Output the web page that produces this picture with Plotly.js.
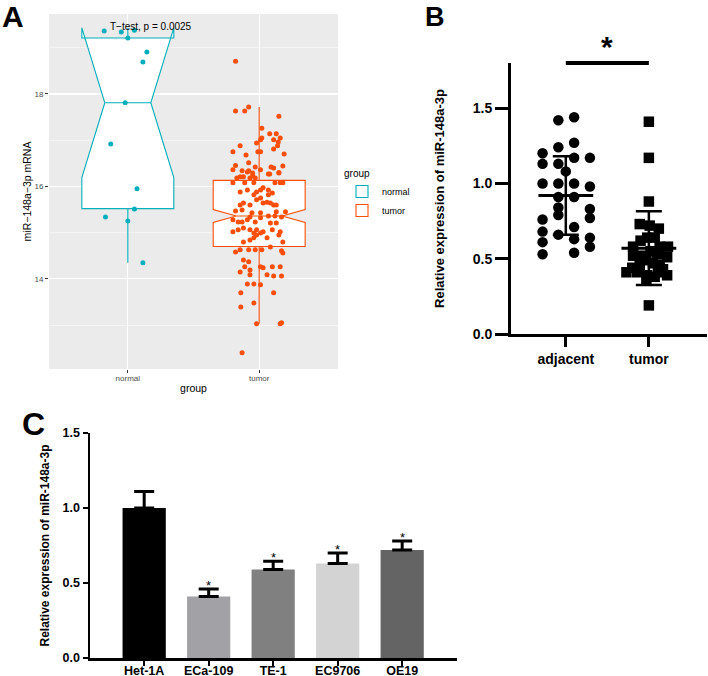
<!DOCTYPE html>
<html><head><meta charset="utf-8">
<script src="https://cdn.plot.ly/plotly-3.0.1.min.js"></script>
<style>html,body{margin:0;padding:0;background:#fff}#chart{width:708px;height:676px}</style>
</head><body><div id="chart"></div>
<script>
// ---------- Panel A data ----------
const groupsA = ['normal', 'tumor'];
const normalVals = [19.36,19.34,19.38,19.21,18.91,18.69,17.81,16.92,15.95,15.51,15.34,15.25,14.35];
const normalJit  = [-0.18,-0.05,0.05,0,0.145,0.115,-0.02,-0.13,0.07,0.05,-0.17,0,0.115];
const tumorVals = [
 18.71,17.63,17.63,17.72,17.52,17.26,17.14,17.14,17.05,17.05,17.01,16.94,17.01,16.96,16.88,16.88,16.75,16.68,16.75,16.75,
 16.81,16.70,16.51,16.45,16.42,16.42,16.40,16.44,16.34,16.34,16.27,16.30,16.23,
 16.36,16.21,16.31,16.29,16.36,16.27,16.29,16.18,16.21,16.18,16.18,
 16.08,16.08,16.08,16.08,16.08,16.08,
 15.88,15.92,15.88,15.92,15.97,15.92,15.86,15.82,15.82,
 15.64,15.71,15.75,15.66,15.60,15.60,15.60,15.60,15.64,15.64,
 15.47,15.49,15.43,15.43,15.45,15.45,15.34,15.36,15.36,15.34,15.28,15.32,15.28,15.23,
 15.02,15.06,15.10,15.06,14.99,14.95,14.99,15.02,15.06,14.89,15.06,15.02,14.95,15.23,15.23,15.21,15.21,
 14.80,14.84,14.89,14.80,14.58,14.63,14.63,14.63,14.63,14.69,14.61,14.56,
 14.41,14.37,14.26,14.15,14.19,14.26,14.24,14.26,14.09,14.06,14.26,14.06,14.09,
 13.89,13.89,13.87,13.70,13.70,13.39,13.48,13.03,13.03,13.05,12.40];
const tumorJit = [
 -0.18,-0.18,-0.11,-0.08,0.15,0.02,0.08,0.13,0.16,0.02,0.11,-0.02,0.01,0.145,-0.145,0.14,-0.20,-0.10,-0.01,0.01,
 0.11,0.19,-0.08,-0.18,-0.03,0.09,0.11,0.18,-0.13,-0.08,0.08,0.15,-0.05,
 -0.20,-0.145,-0.09,-0.05,0.01,0.07,0.15,-0.17,-0.12,-0.07,-0.03,
 -0.20,-0.11,-0.04,0.12,0.16,0.18,
 -0.145,-0.09,-0.02,0.01,0.03,0.07,0.10,-0.04,0.07,
 -0.12,-0.02,0.01,0.06,0.11,0.13,-0.145,-0.07,0.03,0.085,
 -0.18,-0.13,-0.055,0.01,0.13,0.20,0.17,0.12,0.07,-0.07,-0.20,0.01,-0.09,-0.16,
 -0.20,-0.16,-0.12,-0.07,-0.04,-0.02,0.01,0.03,-0.02,0.06,0.10,0.16,0.15,-0.13,-0.03,0.085,0.13,
 -0.12,-0.07,-0.04,0.18,-0.18,-0.145,-0.08,-0.03,0.02,0.085,0.17,0.18,
 -0.12,-0.08,-0.11,-0.145,-0.07,0.01,0.03,0.10,0.06,0.11,0.16,0.17,-0.07,
 -0.09,-0.04,0.01,0.11,-0.14,-0.14,-0.04,-0.02,0.16,0.17,-0.13];
// box statistics: [normal, tumor]
const boxQ1 = [15.52, 14.70];
const boxMedian = [17.81, 15.36];
const boxQ3 = [19.21, 16.13];
const boxLower = [14.35, 13.03];
const boxUpper = [19.38, 17.72];
const boxNotch = [1.62, 0.14];
const colorsA = ['#00AFBB', '#FC4E07'];

// ---------- Panel B data ----------
const groupsB = ['adjacent', 'tumor'];
const adjVals = [1.42,1.44,1.24,1.27,1.20,1.17,1.17,1.13,1.13,1.08,1.00,1.00,1.00,0.98,0.91,0.91,0.84,0.83,0.79,0.76,0.77,0.68,0.71,0.66,0.61,0.63,0.64,0.58,0.53,0.54];
const adjJit  = [-0.09,0.1,-0.09,0.1,-0.28,0.1,0.29,-0.28,-0.09,0,-0.28,-0.09,0.1,0.29,-0.09,0.1,-0.09,0.29,-0.09,-0.28,0.29,-0.28,0.1,-0.09,-0.28,0.1,0.29,0.29,-0.28,0.1];
const tumBVals = [1.41,1.17,0.88,0.73,0.72,0.70,0.64,0.64,0.62,0.58,0.58,0.58,0.55,0.53,0.52,0.52,0.51,0.49,0.47,0.46,0.46,0.44,0.43,0.41,0.41,0.39,0.41,0.39,0.36,0.38,0.19];
const tumBJit  = [0,0,0,-0.11,0.01,0.12,-0.02,0.07,-0.1,-0.19,0.13,0.23,0.02,0.1,-0.19,-0.08,0.22,-0.03,0.05,-0.11,0.13,-0.2,0.17,-0.27,-0.14,-0.02,0.11,0.22,-0.03,0.07,0];
const meanB = [0.92, 0.57];
const sdB = [0.26, 0.245];
const yTicksB = [0, 0.5, 1.0, 1.5];

// ---------- Panel C data ----------
const cells = ['Het-1A', 'ECa-109', 'TE-1', 'EC9706', 'OE19'];
const cMeans = [1.00, 0.41, 0.59, 0.63, 0.72];
const cErr = [0.11, 0.05, 0.055, 0.07, 0.06];
const cColors = ['#000000', '#a2a2a6', '#808080', '#d3d3d3', '#646464'];
const cSig = ['', '*', '*', '*', '*'];
const yTicksC = [0, 0.5, 1.0, 1.5];

const FONT = 'Liberation Sans, Arial, sans-serif';
const W = 708, H = 676;
const px = v => v / W, py = v => 1 - v / H;
const traces = [];

// Panel A boxes + points
groupsA.forEach((g, i) => {
  traces.push({
    type: 'box', name: g, x: [i], q1: [boxQ1[i]], median: [boxMedian[i]], q3: [boxQ3[i]],
    lowerfence: [boxLower[i]], upperfence: [boxUpper[i]], notchspan: [boxNotch[i]],
    notched: true, notchwidth: 0.25, width: 0.7, whiskerwidth: 0, boxpoints: false,
    fillcolor: 'white', line: { color: colorsA[i], width: 1.1 },
    xaxis: 'x', yaxis: 'y', showlegend: true, hoverinfo: 'skip'
  });
});
const aVals = [normalVals, tumorVals], aJit = [normalJit, tumorJit];
groupsA.forEach((g, i) => {
  traces.push({
    type: 'scatter', mode: 'markers', x: aJit[i].map(j => i + j), y: aVals[i],
    marker: { color: colorsA[i], size: 5 }, xaxis: 'x', yaxis: 'y', showlegend: false
  });
});

// Panel B points
traces.push({ type: 'scatter', mode: 'markers', x: adjJit.map(j => 0 + j), y: adjVals,
  marker: { color: 'black', size: 10.5, symbol: 'circle' }, xaxis: 'x2', yaxis: 'y2', showlegend: false });
traces.push({ type: 'scatter', mode: 'markers', x: tumBJit.map(j => 1 + j), y: tumBVals,
  marker: { color: 'black', size: 10.5, symbol: 'square' }, xaxis: 'x2', yaxis: 'y2', showlegend: false });
traces.push({ type: 'scatter', mode: 'markers', x: [0, 1], y: meanB,
  marker: { color: 'rgba(0,0,0,0)', size: 1 },
  error_y: { type: 'data', array: sdB, width: 13, thickness: 2.5, color: 'black' },
  error_x: { type: 'constant', value: 0.33, width: 0, thickness: 3, color: 'black' },
  xaxis: 'x2', yaxis: 'y2', showlegend: false });

// Panel C bars
traces.push({ type: 'bar', x: cells, y: cMeans, width: 0.67,
  marker: { color: cColors, line: { width: 0 } },
  error_y: { type: 'data', array: cErr, arrayminus: cErr.map(() => 0), symmetric: false, width: 10, thickness: 3, color: 'black' },
  xaxis: 'x3', yaxis: 'y3', showlegend: false });

const annotations = [
  { text: '<b>A</b>', xref: 'paper', yref: 'paper', x: 0, y: py(16), xanchor: 'left', yanchor: 'middle', showarrow: false, font: { family: FONT, size: 30, color: 'black' } },
  { text: '<b>B</b>', xref: 'paper', yref: 'paper', x: px(435), y: py(17), xanchor: 'center', yanchor: 'middle', showarrow: false, font: { family: FONT, size: 27, color: 'black' } },
  { text: '<b>C</b>', xref: 'paper', yref: 'paper', x: px(33), y: py(424), xanchor: 'center', yanchor: 'middle', showarrow: false, font: { family: FONT, size: 32, color: 'black' } },
  { text: 'T\u2212test, p = 0.0025', xref: 'x', yref: 'y', x: 0.18, y: 19.45, showarrow: false, font: { family: FONT, size: 10, color: 'black' } },
  { text: '<b>*</b>', xref: 'x2', yref: 'paper', x: 0.5, y: py(47), yanchor: 'middle', showarrow: false, font: { family: FONT, size: 30, color: 'black' } }
];
cells.forEach((c, i) => {
  if (cSig[i]) annotations.push({ text: cSig[i], xref: 'x3', yref: 'y3', x: c, y: cMeans[i] + cErr[i], yanchor: 'bottom', yshift: -6, showarrow: false, font: { family: FONT, size: 13, color: 'black' } });
});

const layout = {
  width: W, height: H, autosize: false,
  margin: { l: 0, r: 0, t: 0, b: 0 },
  paper_bgcolor: 'white', plot_bgcolor: 'white',
  font: { family: FONT, color: 'black' },
  showlegend: true,
  legend: { x: px(342), y: py(164), xanchor: 'left', yanchor: 'top', bgcolor: 'rgba(0,0,0,0)',
    title: { text: 'group', font: { size: 10, family: FONT, color: 'black' } },
    font: { size: 9, family: FONT, color: 'black' }, itemwidth: 30, tracegroupgap: 0 },
  xaxis: { domain: [px(49), px(338)], anchor: 'y', range: [-0.6, 1.6], tickvals: [0, 1], ticktext: groupsA,
    showgrid: true, gridcolor: 'white', gridwidth: 1.1, zeroline: false, ticks: 'outside', ticklen: 3, tickcolor: '#333',
    ticklabelstandoff: -2,
    tickfont: { size: 8, color: '#4d4d4d' }, title: { text: 'group', font: { size: 10.5, color: 'black' }, standoff: 3 }, showline: false },
  yaxis: { domain: [py(369), py(14)], anchor: 'x', range: [12.05, 19.73], tickvals: [14, 16, 18],
    showgrid: true, gridcolor: 'white', gridwidth: 1.1, zeroline: false, ticks: 'outside', ticklen: 3, tickcolor: '#333',
    minor: { tickvals: [13, 15, 17, 19], showgrid: true, gridcolor: 'white', gridwidth: 0.5, ticks: '' },
    tickfont: { size: 8, color: '#4d4d4d' }, title: { text: 'miR\u2212148a\u22123p mRNA', font: { size: 10.5, color: 'black' }, standoff: 0 } },
  xaxis2: { domain: [px(511), px(707)], anchor: 'y2', range: [-0.66, 1.70], tickvals: [0, 1], ticktext: groupsB,
    showgrid: false, zeroline: false, showline: true, linewidth: 3, linecolor: 'black', ticks: 'outside', ticklen: 10, tickwidth: 3, tickcolor: 'black',
    tickfont: { size: 14, family: FONT, weight: 'bold', color: 'black' } },
  yaxis2: { domain: [py(334), py(63)], anchor: 'x2', range: [0, 1.8], tickvals: yTicksB, ticktext: yTicksB.map(v => v.toFixed(1)),
    showgrid: false, zeroline: false, showline: true, linewidth: 3, linecolor: 'black', ticks: 'outside', ticklen: 13, tickwidth: 3, tickcolor: 'black',
    tickfont: { size: 14, family: FONT, weight: 'bold', color: 'black' },
    title: { text: '<b>Relative expression of miR-148a-3p</b>', font: { size: 13, color: 'black' }, standoff: 26 } },
  xaxis3: { domain: [px(90), px(457)], anchor: 'y3', type: 'category', range: [-0.84, 4.85],
    showgrid: false, zeroline: false, showline: true, linewidth: 2.5, linecolor: 'black', ticks: 'outside', ticklen: 5, tickwidth: 2, tickcolor: 'black',
    ticklabelstandoff: -6,
    tickfont: { size: 12.5, family: FONT, weight: 'bold', color: 'black' } },
  yaxis3: { domain: [py(658), py(433)], anchor: 'x3', range: [0, 1.5], tickvals: yTicksC, ticktext: yTicksC.map(v => v.toFixed(1)),
    showgrid: false, zeroline: false, showline: true, linewidth: 2.5, linecolor: 'black', ticks: 'outside', ticklen: 5, tickwidth: 2, tickcolor: 'black',
    tickfont: { size: 12.5, family: FONT, weight: 'bold', color: 'black' },
    title: { text: '<b>Relative expression of miR-148a-3p</b>', font: { size: 12, color: 'black' }, standoff: 11 } },
  shapes: [
    { type: 'rect', xref: 'x domain', yref: 'y domain', x0: 0, x1: 1, y0: 0, y1: 1, fillcolor: '#ebebeb', line: { width: 0 }, layer: 'below' },
    { type: 'line', xref: 'x2', yref: 'paper', x0: 0, x1: 1, y0: py(63), y1: py(63), line: { color: 'black', width: 4 } }
  ],
  annotations: annotations
};

Plotly.newPlot('chart', traces, layout, { displayModeBar: false, staticPlot: true });
</script></body></html>
